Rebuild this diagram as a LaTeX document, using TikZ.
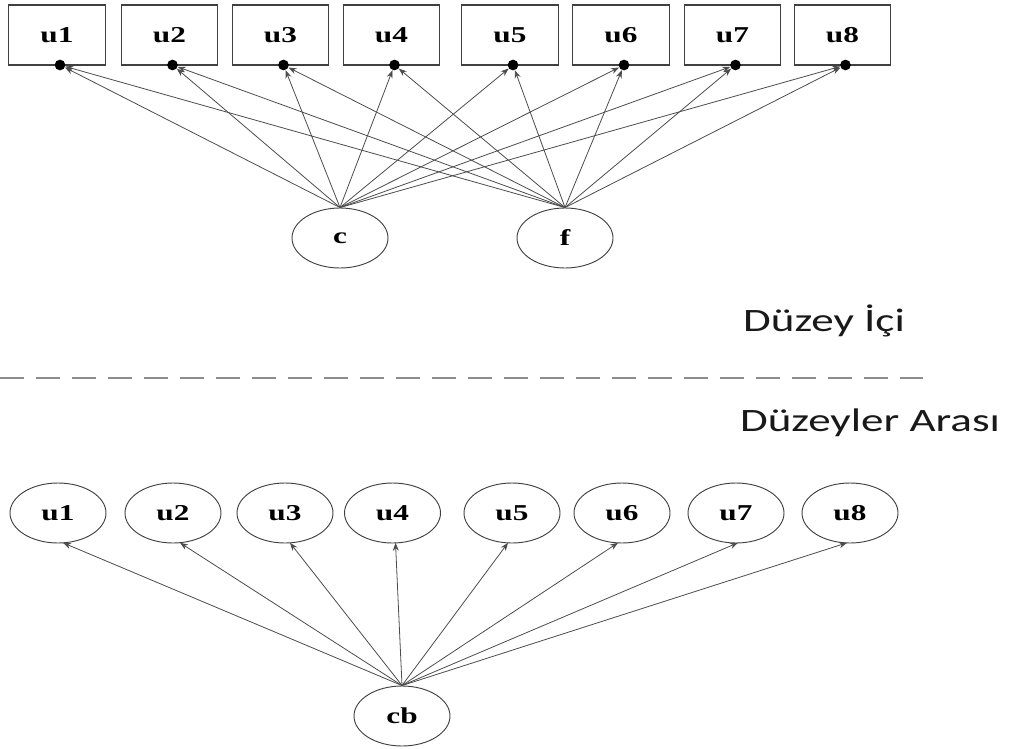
\documentclass[tikz,border=0pt]{standalone}
\usepackage{fontspec}
\setmainfont{Liberation Serif}
\newfontfamily\labelfont{Carlito}
\usetikzlibrary{shapes.geometric,arrows.meta}
\newcommand{\wideTxt}[1]{\scalebox{1.38}[1]{#1}}
\begin{document}
\begin{tikzpicture}[x=0.75pt,y=-0.75pt,
  obs/.style={draw=black!75,line width=0.8pt,rectangle,minimum width=72.5pt,minimum height=45pt,inner sep=0pt,font=\bfseries\fontsize{17}{17}\selectfont},
  lat/.style={draw=black!75,line width=0.7pt,ellipse,minimum width=72pt,minimum height=45pt,inner sep=0pt,font=\bfseries\fontsize{17}{17}\selectfont},
  dot/.style={circle,fill=black,inner sep=0pt,minimum size=8pt},
  path/.style={draw=black!70,line width=0.6pt,-{Stealth[length=6pt,width=4.5pt]}},
  lvl/.style={font=\labelfont\fontsize{24.5}{24.5}\selectfont,text=black!90}
]
\useasboundingbox (0,0) rectangle (1013,749);
% within level observed
\foreach \n/\x in {1/57,2/169.5,3/280.5,4/391.5,5/510,6/621,7/732.5,8/842.5}{
  \node[obs] (w\n) at (\x,35) {\wideTxt{u\n}};
  \node[dot] (d\n) at (\x+3,65) {};
}
\node[lat] (c) at (340,238) {\wideTxt{c}};
\node[lat] (f) at (565,238) {\wideTxt{f}};
\foreach \n in {1,...,8}{
  \draw[path] (c.north) -- (d\n);
  \draw[path] (f.north) -- (d\n);
}
% labels and separator
\node[lvl] (within) at (824,321) {\wideTxt{Düzey İçi}};
\draw[draw=black!45,line width=1.5pt,dash pattern=on 18pt off 9pt] (0,378) -- (923,378);
\node[lvl] (between) at (870,423) {\wideTxt{Düzeyler Arası}};
% between level
\foreach \n/\x in {1/58,2/173,3/285,4/392.5,5/512,6/622,7/736,8/850}{
  \node[lat] (b\n) at (\x,513) {\wideTxt{u\n}};
}
\node[lat] (cb) at (402,716) {\wideTxt{cb}};
\foreach \n/\s in {1/5,2/7,3/5,4/3,5/-4,6/-4,7/2,8/-3}{
  \draw[path] (cb.north) -- ([xshift=\s*0.75pt,yshift=0.5pt]b\n.south);
}
\end{tikzpicture}
\end{document}
